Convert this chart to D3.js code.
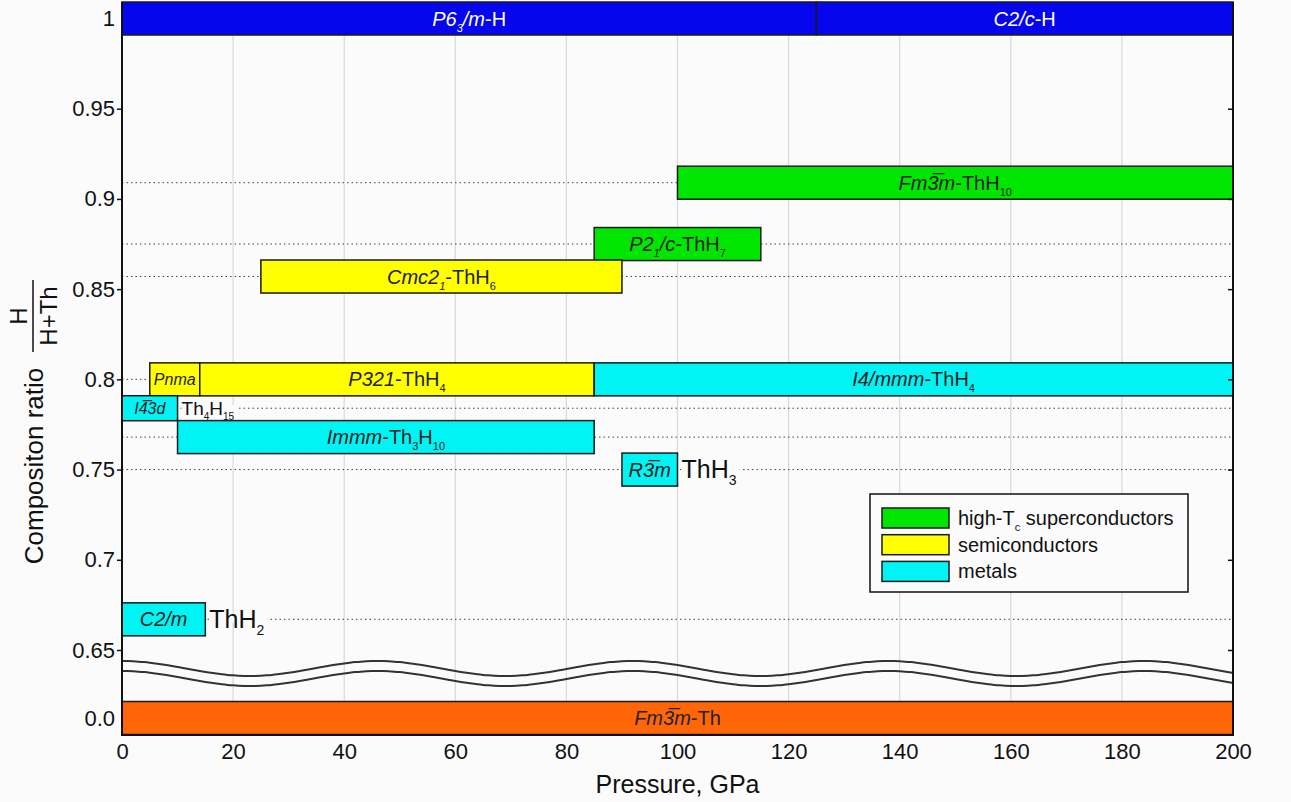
<!DOCTYPE html>
<html>
<head>
<meta charset="utf-8">
<script src="https://cdn.jsdelivr.net/npm/d3@7"></script>
<style>
  body { margin: 0; background: #fbfbfb; }
  text { font-family: "Liberation Sans", Arial, sans-serif; fill: #111; }
</style>
</head>
<body>
<svg id="chart" width="1291" height="802"></svg>
<script>
var pressure_ticks = [0, 20, 40, 60, 80, 100, 120, 140, 160, 180, 200];
var ratio_ticks = [0, 0.65, 0.7, 0.75, 0.8, 0.85, 0.9, 0.95, 1];
var ratio_tick_labels = ["0.0", "0.65", "0.7", "0.75", "0.8", "0.85", "0.9", "0.95", "1"];

// label pieces: [text, flags]  i = italic, s = subscript
var hydrogen_phases = [
  {label: [["P6", "i"], ["3", "is"], ["/m", "i"], ["-H", ""]], from: 0, to: 125, ratio: 1},
  {label: [["C2/c", "i"], ["-H", ""]], from: 125, to: 200, ratio: 1}
];

var thorium_phases = [
  {label: [["Fm3\u0305m", "i"], ["-Th", ""]], from: 0, to: 200, ratio: 0}
];

// kind: sc = high-Tc superconductor, semi = semiconductor, metal
var hydride_phases = [
  {label: [["Fm3\u0305m", "i"], ["-ThH", ""], ["10", "s"]], from: 100, to: 200, ratio: 0.909, kind: "sc"},
  {label: [["P2", "i"], ["1", "is"], ["/c", "i"], ["-ThH", ""], ["7", "s"]], from: 85, to: 115, ratio: 0.875, kind: "sc"},
  {label: [["Cmc2", "i"], ["1", "is"], ["-ThH", ""], ["6", "s"]], from: 25, to: 90, ratio: 0.857, kind: "semi"},
  {label: [["Pnma", "i"]], from: 5, to: 14, ratio: 0.8, kind: "semi", small: true},
  {label: [["P321", "i"], ["-ThH", ""], ["4", "s"]], from: 14, to: 85, ratio: 0.8, kind: "semi"},
  {label: [["I4/mmm", "i"], ["-ThH", ""], ["4", "s"]], from: 85, to: 200, ratio: 0.8, kind: "metal"},
  {label: [["I4\u03053d", "i"]], from: 0, to: 10, ratio: 0.784, kind: "metal", small: true, narrow: true,
    side: [["Th", ""], ["4", "s"], ["H", ""], ["15", "s"]]},
  {label: [["Immm", "i"], ["-Th", ""], ["3", "s"], ["H", ""], ["10", "s"]], from: 10, to: 85, ratio: 0.768, kind: "metal"},
  {label: [["R3\u0305m", "i"]], from: 90, to: 100, ratio: 0.75, kind: "metal",
    side: [["ThH", ""], ["3", "s"]]},
  {label: [["C2/m", "i"]], from: 0, to: 15, ratio: 0.667, kind: "metal",
    side: [["ThH", ""], ["2", "s"]]}
];

var legend_kinds = ["sc", "semi", "metal"];
var legend_labels = [
  [["high-T", ""], ["c", "s"], [" superconductors", ""]],
  [["semiconductors", ""]],
  [["metals", ""]]
];

var colors = {H: "#0505ee", Th: "#ff6608", sc: "#00e600", semi: "#ffff00", metal: "#00f4f4"};

var svg = d3.select("#chart");
var bg = "#fbfbfb";
var bar_h = 33, narrow_h = 25;

var x = d3.scaleLinear().domain([0, 200]).range([122, 1233]);
// broken axis: 0 .. 0.65 squeezed into the break
var y = d3.scaleLinear().domain([0, 0.65, 1]).range([718, 650, 18.5]);

function add_label(txt, pieces, size) {
  var shift = 0;
  pieces.forEach(function(p) {
    var t = txt.append("tspan").text(p[0]);
    if (p[1].indexOf("i") >= 0) t.attr("font-style", "italic");
    if (p[1].indexOf("s") >= 0) {
      var d = Math.round(size * 0.28);
      t.attr("font-size", Math.round(size * 0.55)).attr("dy", d - shift);
      shift = d;
    } else {
      t.attr("dy", -shift);
      shift = 0;
    }
  });
  return txt;
}

// grid
svg.append("g").selectAll("line")
  .data(pressure_ticks.slice(1, -1))
  .enter().append("line")
    .attr("x1", function(d) { return x(d); })
    .attr("x2", function(d) { return x(d); })
    .attr("y1", 35).attr("y2", 702)
    .style("stroke", "#d9d9d9").style("stroke-width", 1.2);

// dotted composition guides
var guide_ratios = d3.group(hydride_phases, function(d) { return d.ratio; });
svg.append("g").selectAll("line")
  .data(Array.from(guide_ratios.keys()))
  .enter().append("line")
    .attr("x1", x(0)).attr("x2", x(200))
    .attr("y1", function(d) { return y(d); })
    .attr("y2", function(d) { return y(d); })
    .style("stroke", "#444").style("stroke-width", 1)
    .style("stroke-dasharray", "1.5,3");

// axis break waves
var wave = d3.line()
  .x(function(d) { return x(d[0]); })
  .y(function(d) { return d[1]; })
  .curve(d3.curveBasis);
[668.5, 678.5].forEach(function(c) {
  var pts = d3.range(0, 200.5, 1).map(function(p) {
    return [p, c - 7.5 * Math.cos(2 * Math.PI * p / 46)];
  });
  svg.append("path").attr("d", wave(pts))
    .style("fill", "none").style("stroke", "#333").style("stroke-width", 2);
});

function draw_bars(data, fill_of, text_color) {
  var g = svg.append("g").selectAll("g").data(data).enter().append("g");
  g.each(function(d) {
    var h = d.narrow ? narrow_h : bar_h;
    var cy = y(d.ratio);
    var sel = d3.select(this);
    sel.append("rect")
      .attr("x", x(d.from))
      .attr("y", cy - h / 2)
      .attr("width", x(d.to) - x(d.from))
      .attr("height", h)
      .style("fill", fill_of(d))
      .style("stroke", "#1a1a1a").style("stroke-width", 1.5);
    var size = d.small ? 16 : 20;
    var t = sel.append("text")
      .attr("x", (x(d.from) + x(d.to)) / 2)
      .attr("y", cy + size * 0.35)
      .attr("text-anchor", "middle")
      .style("font-size", size + "px")
      .style("fill", text_color);
    add_label(t, d.label, size);
    if (d.side) {
      var ssize = d.narrow ? 19 : 25;
      var st = sel.append("text")
        .attr("x", x(d.to) + 4)
        .attr("y", cy + ssize * 0.35)
        .style("font-size", ssize + "px");
      add_label(st, d.side, ssize);
      var bb = st.node().getBBox();
      sel.insert("rect", "text:last-of-type")
        .attr("x", bb.x).attr("y", cy - 3)
        .attr("width", bb.width + 3).attr("height", 6)
        .style("fill", bg);
    }
  });
}

draw_bars(hydrogen_phases, function() { return colors.H; }, "#fff");
draw_bars(thorium_phases, function() { return colors.Th; }, "#222");
draw_bars(hydride_phases, function(d) { return colors[d.kind]; }, "#222");

// frame
var frame = svg.append("g").style("stroke", "#111").style("stroke-width", 2);
frame.append("line").attr("x1", x(0)).attr("x2", x(0)).attr("y1", 2).attr("y2", 736);
frame.append("line").attr("x1", x(200)).attr("x2", x(200)).attr("y1", 2).attr("y2", 736);
frame.append("line").attr("x1", x(0) - 1).attr("x2", x(200) + 1).attr("y1", 735).attr("y2", 735);

// axes
var y_axis = svg.append("g")
  .attr("transform", "translate(" + x(0) + ",0)")
  .call(d3.axisLeft(y).tickValues(ratio_ticks).tickSize(5).tickPadding(2)
    .tickFormat(function(d, i) { return ratio_tick_labels[i]; }));
y_axis.select(".domain").remove();
y_axis.selectAll(".tick").filter(function(d) { return d === 0 || d === 1; })
  .select("line").remove();
y_axis.selectAll("line").style("stroke", "#111").style("stroke-width", 1.5);
y_axis.selectAll("text").style("font-size", "22px").style("font-family", null).attr("fill", "#111");

var y_right = svg.append("g")
  .attr("transform", "translate(" + x(200) + ",0)")
  .call(d3.axisRight(y).tickValues(ratio_ticks.slice(1, -1)).tickSize(-5).tickFormat(""));
y_right.select(".domain").remove();
y_right.selectAll("line").style("stroke", "#111").style("stroke-width", 1.5);

var x_axis = svg.append("g")
  .attr("transform", "translate(0,735)")
  .call(d3.axisBottom(x).tickValues(pressure_ticks).tickSize(0).tickPadding(8));
x_axis.select(".domain").remove();
x_axis.selectAll("text").style("font-size", "22px").style("font-family", null).attr("fill", "#111");

svg.append("text")
  .attr("x", x(100)).attr("y", 793)
  .attr("text-anchor", "middle")
  .style("font-size", "25px")
  .text("Pressure, GPa");

// y title with H/(H+Th) fraction
var yt = svg.append("g").attr("transform", "rotate(-90)");
yt.append("text")
  .attr("x", -466).attr("y", 43)
  .attr("text-anchor", "middle")
  .style("font-size", "26px")
  .text("Compositon ratio");
yt.append("text")
  .attr("x", -316).attr("y", 27)
  .attr("text-anchor", "middle")
  .style("font-size", "24px")
  .text("H");
yt.append("line")
  .attr("x1", -352).attr("x2", -280)
  .attr("y1", 33).attr("y2", 33)
  .style("stroke", "#111").style("stroke-width", 1.5);
yt.append("text")
  .attr("x", -316).attr("y", 57)
  .attr("text-anchor", "middle")
  .style("font-size", "24px")
  .text("H+Th");

// legend
var legend = svg.append("g");
legend.append("rect")
  .attr("x", 870).attr("y", 494).attr("width", 318).attr("height", 98)
  .style("fill", bg).style("stroke", "#111").style("stroke-width", 1.5);
legend_kinds.forEach(function(k, i) {
  legend.append("rect")
    .attr("x", 882).attr("y", 508 + i * 26.7).attr("width", 67).attr("height", 20)
    .style("fill", colors[k]).style("stroke", "#1a1a1a").style("stroke-width", 1.5);
  var t = legend.append("text")
    .attr("x", 958).attr("y", 525 + i * 26.7)
    .style("font-size", "20px");
  add_label(t, legend_labels[i], 20);
});
</script>
</body>
</html>
